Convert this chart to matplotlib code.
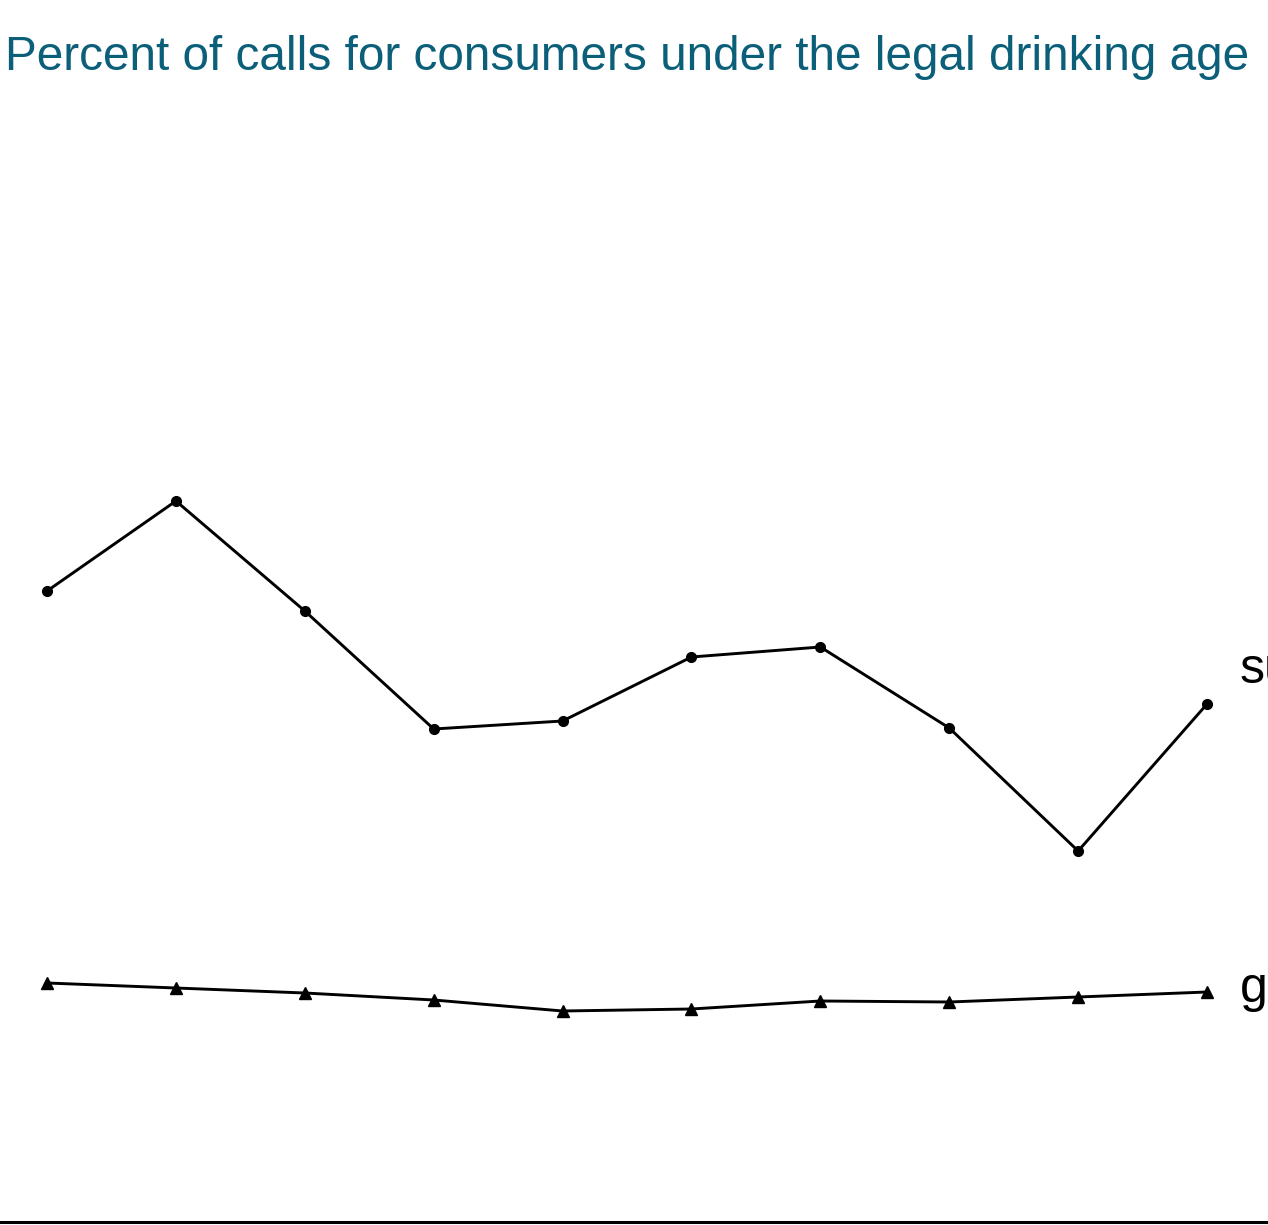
import matplotlib.pyplot as plt

plt.rcParams['font.family'] = ['Liberation Sans', 'DejaVu Sans']

# values (percent)
periods = list(range(10))
underage_survey = [63.1, 72.1, 61.1, 49.3, 50.1, 56.5, 57.5, 49.4, 37.1, 51.8]
underage_general = [23.9, 23.4, 22.9, 22.2, 21.1, 21.3, 22.1, 22.0, 22.5, 23.0]
series_labels = ["survey", "general"]
label_y = [53.9, 22.0]

fig = plt.figure(figsize=(12.68, 12.25), dpi=100)
ax = fig.add_axes([0, 3 / 1225, 1, 1120 / 1225])

ax.plot(periods, underage_survey, color='black', lw=2.1, marker='o', ms=7)
ax.plot(periods, underage_general, color='black', lw=2.1, marker='^', ms=8)

# labels run off the right edge, as in the original
for lab, yy in zip(series_labels, label_y):
    ax.text(9.256, yy, lab, fontsize=36, va='baseline', ha='left', clip_on=False)

ax.set_xlim(-0.365, 9.473)
ax.set_ylim(0, 112)
for s in ['top', 'left', 'right']:
    ax.spines[s].set_visible(False)
ax.spines['bottom'].set_linewidth(2.2)
ax.set_xticks([])
ax.set_yticks([])

fig.text(0.004, 1 - 58 / 1225, "Percent of calls for consumers under the legal drinking age",
         fontsize=34.4, color='#0B5F79', va='center', ha='left')

fig.savefig('out.png', dpi=100)
